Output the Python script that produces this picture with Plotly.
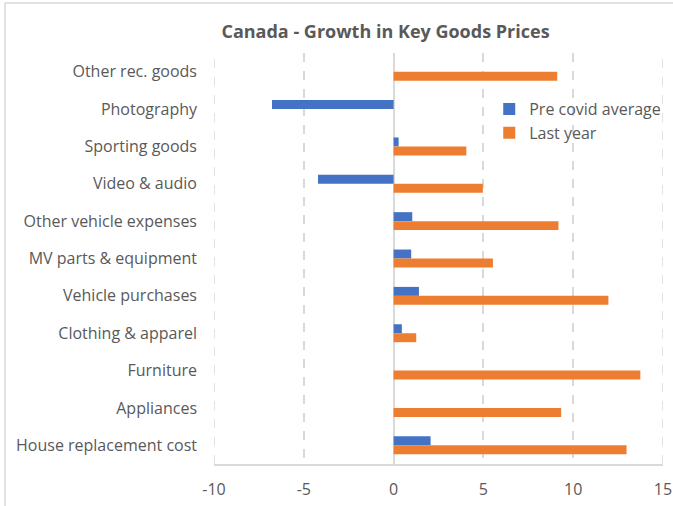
import plotly.graph_objects as go

categories = [
    "Other rec. goods",
    "Photography",
    "Sporting goods",
    "Video & audio",
    "Other vehicle expenses",
    "MV parts & equipment",
    "Vehicle purchases",
    "Clothing & apparel",
    "Furniture",
    "Appliances",
    "House replacement cost",
]
pre_covid_avg = [None, -6.77, 0.28, -4.21, 1.04, 0.98, 1.41, 0.46, None, None, 2.06]
last_year = [9.11, None, 4.05, 4.97, 9.18, 5.53, 11.96, 1.26, 13.74, 9.33, 12.97]
x_ticks = [-10, -5, 0, 5, 10, 15]

TEXT = "#595959"
GRID = "#d9d9d9"
FONT = "Open Sans"

fig = go.Figure()
fig.add_trace(go.Bar(
    y=categories, x=pre_covid_avg, orientation="h",
    name="Pre covid average", marker=dict(color="#4472C4", line=dict(width=0)),
))
fig.add_trace(go.Bar(
    y=categories, x=last_year, orientation="h",
    name="Last year", marker=dict(color="#ED7D31", line=dict(width=0)),
))

fig.update_layout(
    width=673, height=506,
    margin=dict(l=214, r=10, t=53, b=42, autoexpand=False),
    paper_bgcolor="white", plot_bgcolor="white",
    barmode="group", bargap=0.52, bargroupgap=0,
    font=dict(family=FONT, color=TEXT, size=16),
    title=dict(
        text="<b>Canada - Growth in Key Goods Prices</b>",
        x=385.5 / 673, xref="container", xanchor="center",
        y=(506 - 32) / 506, yref="container", yanchor="middle",
        font=dict(family=FONT, size=18, color=TEXT),
    ),
    legend=dict(
        x=0.613, y=0.905, xanchor="left", yanchor="top",
        bgcolor="rgba(0,0,0,0)", font=dict(size=16, color=TEXT),
        itemwidth=30, tracegroupgap=0,
    ),
    showlegend=True,
)

fig.update_xaxes(
    range=[-10, 15], tickvals=x_ticks, ticktext=[str(v) for v in x_ticks],
    showgrid=True, gridcolor=GRID, gridwidth=1.5, griddash="dash",
    zeroline=True, zerolinecolor=GRID, zerolinewidth=2,
    showline=True, linecolor=GRID, linewidth=1.5,
    ticks="", tickfont=dict(size=16, color=TEXT), ticklabelstandoff=10,
)
fig.update_yaxes(
    autorange="reversed", showgrid=False, zeroline=False, showline=False,
    ticks="", tickfont=dict(size=16, color=TEXT), ticklabelstandoff=16,
)

# dashed gridlines at the two ends of the value axis
for xv in (x_ticks[0], x_ticks[-1]):
    fig.add_shape(
        type="line", xref="x", yref="paper", x0=xv, x1=xv, y0=0, y1=1,
        line=dict(color=GRID, width=1.5, dash="dash"), layer="below",
    )

# light outer chart border
fig.add_shape(
    type="rect", xref="paper", yref="paper",
    x0=(5 - 214) / 449, x1=(690 - 214) / 449,
    y0=-(520 - 464) / 411, y1=1 + (53 - 3) / 411,
    line=dict(color=GRID, width=1.5), layer="below",
)

fig.write_html("out.html")
